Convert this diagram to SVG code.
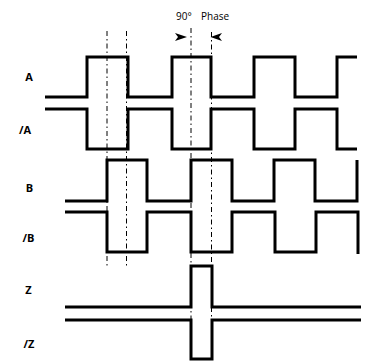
<svg xmlns="http://www.w3.org/2000/svg" width="368" height="361" viewBox="0 0 368 361">
  <style>
    .sig { fill: none; stroke: #000; stroke-width: 3; stroke-linejoin: miter; }
    .dd { fill: none; stroke: #000; stroke-width: 1; stroke-dasharray: 5 3 1.5 3; }
    .lbl { font-family: "Open Sans", "Noto Sans", sans-serif; font-weight: bold; font-size: 11px; fill: #000; text-anchor: middle; }
    .ph { font-family: "Open Sans", "Noto Sans", sans-serif; font-size: 10px; fill: #000; }
    .ah { fill: #000; stroke: none; }
  </style>
  <rect width="368" height="361" fill="#fff"/>
  <g id="connectors">
    <path class="dd" d="M107,31 V266"/>
    <path class="dd" d="M126.5,31 V266"/>
    <path class="dd" d="M191,28 V320"/>
    <path class="dd" d="M211.5,32 V320"/>
    <path class="ah" d="M175,33 L187,37 L175,41 L178,37 Z"/>
    <path class="ah" d="M222,33 L210.5,37 L222,41 L219,37 Z"/>
  </g>
  <g id="phase-label"><text class="ph" x="176" y="20">90°</text><text class="ph" x="201" y="20">Phase</text></g>
  <g id="A">
    <text class="lbl" x="29" y="81">A</text>
    <path class="sig" d="M45,97 H87 V57 H128 V97 H172 V57 H211 V97 H254 V57 H295 V97 H337 V57 H357"/>
  </g>
  <g id="nA">
    <text class="lbl" x="25" y="134">/A</text>
    <path class="sig" d="M45,109 H87 V149 H128 V109 H172 V149 H211 V109 H254 V149 H295 V109 H337 V149 H357"/>
  </g>
  <g id="B">
    <text class="lbl" x="29.5" y="191.5">B</text>
    <path class="sig" d="M65,201 H107 V160 H147 V201 H191 V160 H232 V201 H274 V160 H315 V201 H357 V160"/>
  </g>
  <g id="nB">
    <text class="lbl" x="28.5" y="241.5">/B</text>
    <path class="sig" d="M65,212 H107 V252 H147 V212 H191 V252 H232 V212 H275 V252 H316 V212 H358 V254"/>
  </g>
  <g id="Z">
    <text class="lbl" x="28.5" y="293.5">Z</text>
    <path class="sig" d="M65,307 H191 V266 H212 V307 H361"/>
  </g>
  <g id="nZ">
    <text class="lbl" x="29" y="348">/Z</text>
    <path class="sig" d="M65,320 H191 V359 H212 V320 H361"/>
  </g>
</svg>
